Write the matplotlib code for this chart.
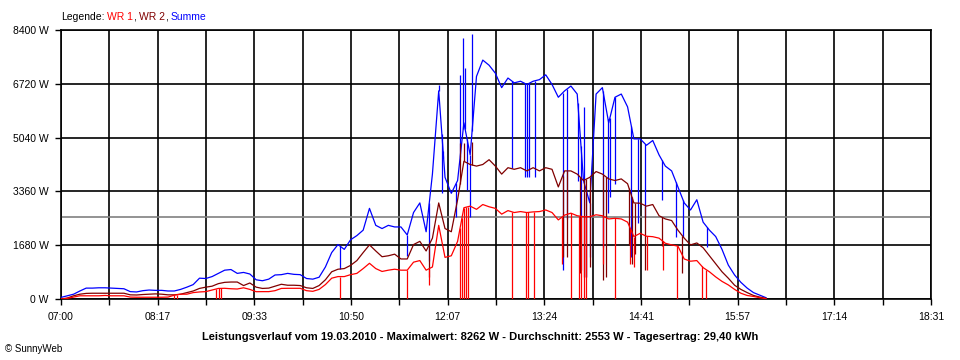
# Leistungsverlauf SunnyWeb 19.03.2010 - WR 1, WR 2 und Summe

import numpy as np
import matplotlib.pyplot as plt

plt.rcParams['font.family'] = ['Liberation Sans', 'DejaVu Sans']

# Zeit in Minuten nach 07:00, 5-Minuten-Raster bis 16:20
t = np.arange(0, 565, 5)

summe = [50, 100, 150, 250, 340, 340, 350, 350, 340, 330,
         320, 230, 220, 260, 280, 270, 270, 250, 250, 300,
         370, 450, 650, 640, 700, 800, 900, 920, 800, 830,
         780, 600, 570, 620, 750, 760, 800, 770, 760, 640,
         620, 680, 1000, 1450, 1700, 1550, 1850, 1980, 2150, 2830,
         2300, 2200, 2300, 2250, 2250, 2000, 2700, 3000, 2100, 3900,
         6500, 3800, 3300, 3700, 5500, 4500, 6950, 7460, 7300, 7050,
         6600, 6900, 6750, 6800, 6700, 6800, 6850, 7000, 6700, 6300,
         6500, 6650, 6400, 3700, 3000, 6400, 6600, 5500, 6300, 6400,
         6000, 5000, 5000, 4800, 4950, 4500, 4150, 4000, 3500, 3000,
         2780, 3100, 2400, 2150, 1950, 1550, 1060, 750, 520, 340,
         200, 120, 40]

wr2 = [0, 30, 100, 150, 175, 180, 180, 180, 180, 180,
       180, 130, 125, 140, 150, 160, 150, 130, 130, 150,
       200, 250, 330, 370, 400, 480, 520, 530, 530, 420,
       500, 370, 330, 340, 400, 460, 430, 430, 420, 350,
       330, 420, 600, 850, 930, 950, 1050, 1200, 1450, 1690,
       1500, 1320, 1350, 1400, 1250, 1250, 1700, 1800, 1500, 1900,
       3000, 2200, 2100, 3100, 4300, 4200, 4150, 4200, 4350, 4150,
       3900, 4100, 4050, 4100, 4000, 4100, 4000, 4100, 4050, 3500,
       4000, 4000, 3900, 3700, 3800, 3980, 3900, 3750, 3700, 3750,
       3600, 3000, 2990, 2900, 2950, 2600, 2500, 2450, 2150, 1900,
       1690, 1750, 1600, 1350, 1100, 850, 650, 430, 300, 200,
       110, 60, 20]

wr1 = [0, 20, 60, 100, 100, 100, 100, 110, 100, 100,
       100, 60, 55, 55, 55, 55, 55, 60, 120, 150,
       150, 200, 220, 230, 280, 330, 334, 320, 312, 350,
       300, 228, 230, 230, 260, 330, 334, 334, 334, 260,
       240, 300, 450, 650, 700, 700, 760, 800, 950, 1115,
       950, 860, 900, 930, 900, 900, 1150, 1200, 900, 1000,
       2300, 1300, 1350, 1800, 2850, 2900, 2800, 2950, 2880, 2830,
       2650, 2760, 2700, 2730, 2700, 2720, 2730, 2780, 2700, 2470,
       2620, 2680, 2600, 2570, 2570, 2630, 2600, 2500, 2520, 2500,
       2400, 1950, 2050, 1960, 1946, 1900, 1740, 1690, 1650, 1250,
       1180, 1200, 980, 850, 690, 550, 440, 300, 180, 110,
       80, 40, 10]

# kurze Einbrueche / Spitzen (Minute, Wert)
summe_spk_t = [221.5, 275, 292.5, 300, 302.5, 303.5, 314, 317, 319.5, 321, 322.5, 325, 326.5,
               358, 368.5, 370, 371.5, 376.5, 398.5, 402, 410.5, 413, 415.5, 417, 420,
               430.5, 434.5, 436, 440, 453, 458.5, 464, 477.5, 488.5, 494, 513]
summe_spk_v = [930, 1340, 1200, 6680, 3300, 4400, 2570, 7000, 8150, 7200, 3400, 2570, 8262,
               4080, 3820, 3820, 3820, 3800, 900, 2500, 3700, 900, 6000, 700, 1300,
               1630, 2700, 3200, 3600, 1320, 2370, 2550, 3100, 1950, 1950, 1630]

wr2_spk_t = [292.5, 317, 320, 326.5, 398.5, 402, 412, 415.5, 417, 420, 430.5, 433,
             451, 453.5, 456, 464, 477.5, 493.5]
wr2_spk_v = [700, 4870, 4870, 4900, 1320, 1320, 800, 700, 700, 1000, 600, 700,
             1700, 1100, 1400, 900, 1650, 800]

wr1_spk_t = [90, 92, 123, 125.5, 127, 221.5, 275, 292.5, 317, 318.5, 320, 321.5, 323.5,
             358, 369.5, 371, 375.5, 398, 405, 411.5, 413, 415.5, 417, 430.5, 440,
             452, 455, 465.5, 478, 489.5, 509, 512.5]
wr1_spk_v = [0, 0, 0, 0, 0, 0, 0, 440, 0, 0, 0, 0, 0,
             0, 0, 0, 0, 1100, 0, 0, 0, 0, 0, 1100, 0,
             1100, 1000, 900, 900, 0, 0, 0]

durchschnitt = 2553
y_ticks = [0, 1680, 3360, 5040, 6720, 8400]
x_labels = ['07:00', '08:17', '09:33', '10:50', '12:07', '13:24', '14:41', '15:57', '17:14', '18:31']
t_end = 691  # 18:31

fig = plt.figure(figsize=(9.6, 3.6), dpi=100)
ax = fig.add_axes([61/960, 61/360, 870/960, 269/360])
ax.set_xlim(0, t_end)
ax.set_ylim(0, 8400)

# Raster
x_grid = np.linspace(0, t_end, 19)
ax.set_xticks(x_grid)
lbl = [''] * 19
lbl[::2] = x_labels
ax.set_xticklabels(lbl, fontsize=7.5)
ax.set_yticks(y_ticks)
ax.set_yticklabels([f'{v} W' for v in y_ticks], fontsize=7.5)
ax.tick_params(length=4, width=1, color='black')
ax.tick_params(axis='x', pad=5)
ax.tick_params(axis='y', pad=5)
ax.grid(color='black', lw=1.2)
ax.set_axisbelow(True)
for s in ax.spines.values():
    s.set_color('black')
    s.set_linewidth(1.2)

ax.axhline(durchschnitt, color='#808080', lw=1.2, zorder=1.5)

series = [(summe, summe_spk_t, summe_spk_v, '#0000ff'),
          (wr2, wr2_spk_t, wr2_spk_v, '#800000'),
          (wr1, wr1_spk_t, wr1_spk_v, '#ff0000')]
for vals, st, sv, col in series:
    ax.plot(t, vals, color=col, lw=0.9, zorder=3)
    base = np.interp(st, t, vals)
    ax.vlines(st, np.minimum(base, sv), np.maximum(base, sv), color=col, lw=0.9, zorder=3)

# Legende oben links: Teilstuecke ueber Breite des Vorspanns positionieren
renderer = fig.canvas.get_renderer()


def text_w(s):
    tt = fig.text(0, 0, s, fontsize=7.5)
    w = tt.get_window_extent(renderer).width
    tt.remove()
    return w


space_w = text_w('a a') - text_w('aa')
legend_parts = ['Legende:', 'WR 1', ',', 'WR 2', ',', 'Summe']
legend_colors = ['black', '#ff0000', 'black', '#800000', 'black', '#0000ff']
legend_gap = [0, 1, 0, 1, 0, 1]  # Leerzeichen vor dem Stueck
x0 = 61
prefix = ''
for txt, col, gap in zip(legend_parts, legend_colors, legend_gap):
    x = x0 + (text_w(prefix) if prefix else 0) + gap * space_w
    fig.text(x / 960, 1 - 17/360, txt, color=col, fontsize=7.5, va='center')
    prefix += ' ' * gap + txt

fig.text(0.5, 1 - 337/360,
         'Leistungsverlauf vom 19.03.2010 - Maximalwert: 8262 W - Durchschnitt: 2553 W - Tagesertrag: 29,40 kWh',
         fontsize=8, fontweight='bold', ha='center', va='center')
fig.text(5/960, 1 - 349/360, '© SunnyWeb', fontsize=7, va='center')

fig.savefig('out.png', dpi=100)
